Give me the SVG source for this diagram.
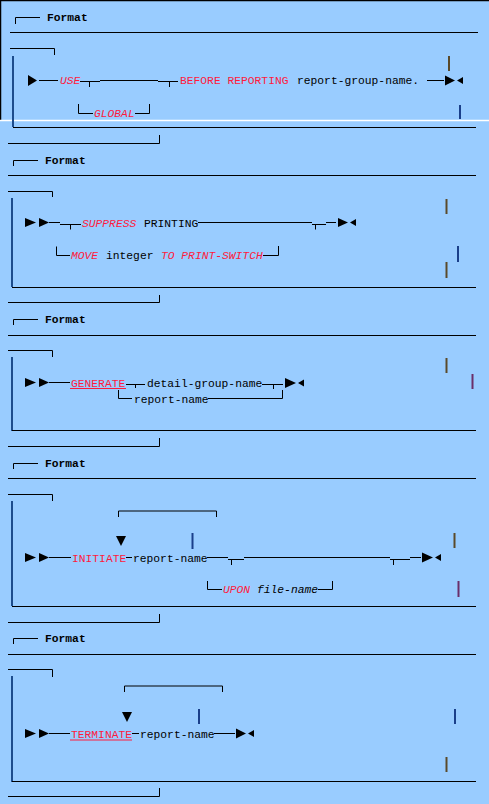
<svg xmlns="http://www.w3.org/2000/svg" width="489" height="804" viewBox="0 0 489 804">
<style>
.ln{stroke:#000;stroke-width:1;fill:none}
.lb{stroke:#1d4c8c;stroke-width:2;fill:none}
.br{stroke:#5a4a2a;stroke-width:2;fill:none}
.bb{stroke:#1a3f8a;stroke-width:2;fill:none}
.bp{stroke:#6a2f6a;stroke-width:2;fill:none}
.ul{stroke:#ff1a3c;stroke-width:1.2;fill:none}
.ar{fill:#000}
.t{font-family:"Liberation Mono","Courier New",monospace;font-size:11.3px;fill:#000}
.k{fill:#ff1a3c}
.i{font-style:italic}
.b{font-weight:bold}
</style>
<rect width="489" height="804" fill="#99ccff"/>
<path d="M0.5,120 V0.5 H489" stroke="#000" stroke-width="1.5" fill="none"/>
<line x1="0" y1="120.5" x2="489" y2="120.5" stroke="#fff" stroke-width="1.5"/>

<g id="format1">
<path class="ln" d="M15.5,24 V17.5 H40"/>
<text class="t b" x="47" y="21">Format</text>
<line class="ln" x1="10" y1="32.5" x2="478" y2="32.5"/>
<path class="ln" d="M10,48.5 H54.5 V55"/>
<line class="lb" x1="13" y1="56" x2="13" y2="127"/>
<line class="ln" x1="13" y1="127.5" x2="476" y2="127.5"/>
<path class="ln" d="M8,143.5 H159.5 V135"/>
<line class="br" x1="449" y1="56" x2="449" y2="71"/>
<line class="bb" x1="460" y1="105" x2="460" y2="119"/>
</g>
<g id="use-row">
<polygon class="ar" points="28,75 37,80.5 28,86"/>
<text class="t k i" x="60" y="84">USE</text>
<text class="t k" x="180" y="84">BEFORE REPORTING</text>
<text class="t" x="297" y="84">report-group-name.</text>
<polygon class="ar" points="445,75.5 455,80.5 445,85.5"/>
<polygon class="ar" points="463,77 457,80.5 463,84"/>
</g>
<g id="global">
<text class="t k i" x="94" y="117">GLOBAL</text>
</g>

<g id="format2">
<path class="ln" d="M13.5,166 V160.5 H38"/>
<text class="t b" x="45" y="164">Format</text>
<line class="ln" x1="8" y1="175.5" x2="476" y2="175.5"/>
<path class="ln" d="M8,191.5 H52.5 V197"/>
<line class="lb" x1="12" y1="198" x2="12" y2="287"/>
<line class="ln" x1="12" y1="287.5" x2="476" y2="287.5"/>
<path class="ln" d="M8,302.5 H159.5 V295"/>
<line class="br" x1="446.5" y1="199" x2="446.5" y2="214"/>
<line class="bb" x1="458" y1="246" x2="458" y2="262"/>
<line class="br" x1="446.5" y1="262" x2="446.5" y2="278"/>
</g>
<g id="suppress-row">
<polygon class="ar" points="25,218 36,222.5 25,227"/>
<polygon class="ar" points="39,218 49,222.5 39,227"/>
<text class="t k i" x="82" y="226.5">SUPPRESS</text>
<text class="t" x="144" y="226.5">PRINTING</text>
<polygon class="ar" points="338,218 348,222.5 338,227"/>
<polygon class="ar" points="356,219 350,222.5 356,226"/>
</g>
<g id="move">
<text class="t k i" x="71" y="259">MOVE</text>
<text class="t" x="106" y="259">integer</text>
<text class="t k i" x="161" y="259">TO PRINT-SWITCH</text>
</g>

<g id="format3">
<path class="ln" d="M13.5,325 V319.5 H38"/>
<text class="t b" x="45" y="323">Format</text>
<line class="ln" x1="8" y1="335.5" x2="476" y2="335.5"/>
<path class="ln" d="M8,350.5 H52.5 V357"/>
<line class="lb" x1="12" y1="357" x2="12" y2="431"/>
<line class="ln" x1="12" y1="430.5" x2="476" y2="430.5"/>
<path class="ln" d="M8,446.5 H159.5 V438"/>
<line class="br" x1="446.5" y1="358" x2="446.5" y2="373"/>
<line class="bp" x1="472.5" y1="374" x2="472.5" y2="389"/>
</g>
<g id="generate-row">
<polygon class="ar" points="25,378 36,382.5 25,387"/>
<polygon class="ar" points="39,378 49,382.5 39,387"/>
<text class="t k" x="71" y="386.5">GENERATE</text>
<line class="ul" x1="70" y1="388.5" x2="126" y2="388.5"/>
<text class="t" x="147" y="386.5">detail-group-name</text>
<polygon class="ar" points="285,378 296,383 285,388"/>
<polygon class="ar" points="304,379.5 298,383 304,386.5"/>
</g>
<g id="report-name-alt">
<text class="t" x="134" y="402.5">report-name</text>
</g>

<g id="format4">
<path class="ln" d="M13.5,469 V463.5 H38"/>
<text class="t b" x="45" y="467">Format</text>
<line class="ln" x1="8" y1="478.5" x2="476" y2="478.5"/>
<path class="ln" d="M8,494.5 H52.5 V501"/>
<line class="lb" x1="12" y1="501" x2="12" y2="606"/>
<line class="ln" x1="12" y1="606.5" x2="476" y2="606.5"/>
<path class="ln" d="M8,622.5 H159.5 V614"/>
<line class="br" x1="454.5" y1="533" x2="454.5" y2="548"/>
<line class="bp" x1="458.5" y1="581" x2="458.5" y2="597"/>
<line class="bb" x1="192.5" y1="533" x2="192.5" y2="549"/>
</g>
<g id="initiate-row">
<path class="ln" d="M118.5,517 V511 H216.5 V517"/>
<polygon class="ar" points="116,536 126,536 121,546"/>
<polygon class="ar" points="25,553 36,557.5 25,562"/>
<polygon class="ar" points="39,553 49,557.5 39,562"/>
<text class="t k" x="72" y="561.5">INITIATE</text>
<text class="t" x="133" y="561.5">report-name</text>
<polygon class="ar" points="422,552.5 433,557.5 422,562.5"/>
<polygon class="ar" points="441,554 435,557.5 441,561"/>
</g>
<g id="upon">
<text class="t k i" x="223" y="593">UPON</text>
<text class="t i" x="257" y="593">file-name</text>
</g>

<g id="format5">
<path class="ln" d="M13.5,644 V638.5 H38"/>
<text class="t b" x="45" y="642">Format</text>
<line class="ln" x1="8" y1="654.5" x2="476" y2="654.5"/>
<path class="ln" d="M8,669.5 H52.5 V677"/>
<line class="lb" x1="12" y1="676" x2="12" y2="782"/>
<line class="ln" x1="12" y1="781.5" x2="476" y2="781.5"/>
<path class="ln" d="M8,796.5 H159.5 V788"/>
<line class="bb" x1="455" y1="709" x2="455" y2="724"/>
<line class="br" x1="446.5" y1="757" x2="446.5" y2="772"/>
<line class="bb" x1="199" y1="709" x2="199" y2="724"/>
</g>
<g id="terminate-row">
<path class="ln" d="M124.5,692 V686 H222.5 V692"/>
<polygon class="ar" points="122,712 132,712 127,722"/>
<polygon class="ar" points="25,729 36,733.5 25,738"/>
<polygon class="ar" points="39,729 49,733.5 39,738"/>
<text class="t k" x="71" y="737.5">TERMINATE</text>
<line class="ul" x1="70" y1="740" x2="132" y2="740"/>
<text class="t" x="140" y="737.5">report-name</text>
<polygon class="ar" points="236,728.5 246,733.5 236,738.5"/>
<polygon class="ar" points="254,730 248,733.5 254,737"/>
</g>

<g id="connectors">
<path class="ln" d="M39,80.5 H58"/>
<path class="ln" d="M80,81.5 H100 M89.5,81.5 V87 M100,80.5 H158 M158,81.5 H178 M169.5,81.5 V87"/>
<path class="ln" d="M427,80.5 H444"/>
<path class="ln" d="M78.5,104 V113.5 H93 M135,113.5 H149.5 V104"/>

<path class="ln" d="M49,222.5 H60 M60,224.5 H81 M70.5,224.5 V229.5 M198,222.5 H312 M312,224.5 H326 M315.5,224.5 V229.5 M326,222.5 H336"/>
<path class="ln" d="M56.5,246.5 V255.5 H70 M263,255.5 H278.5 V246"/>

<path class="ln" d="M49,382.5 H70 M126,384.5 H145 M135.5,384.5 V388 M262,384.5 H283 M273.5,384.5 V389"/>
<path class="ln" d="M118.5,390 V398.5 H132 M208,398.5 H282.5 V390"/>

<path class="ln" d="M49,557.5 H71 M126,557.5 H132 M207,557.5 H228 M228,559.5 H244 M231.5,559.5 V565 M244,557.5 H390 M390,559.5 H410 M393.5,559.5 V565 M410,557.5 H421"/>
<path class="ln" d="M207.5,581 V589.5 H222 M318,589.5 H332.5 V581"/>

<path class="ln" d="M49,733.5 H70 M132,733.5 H139 M214,733.5 H235"/>
</g>
</svg>
